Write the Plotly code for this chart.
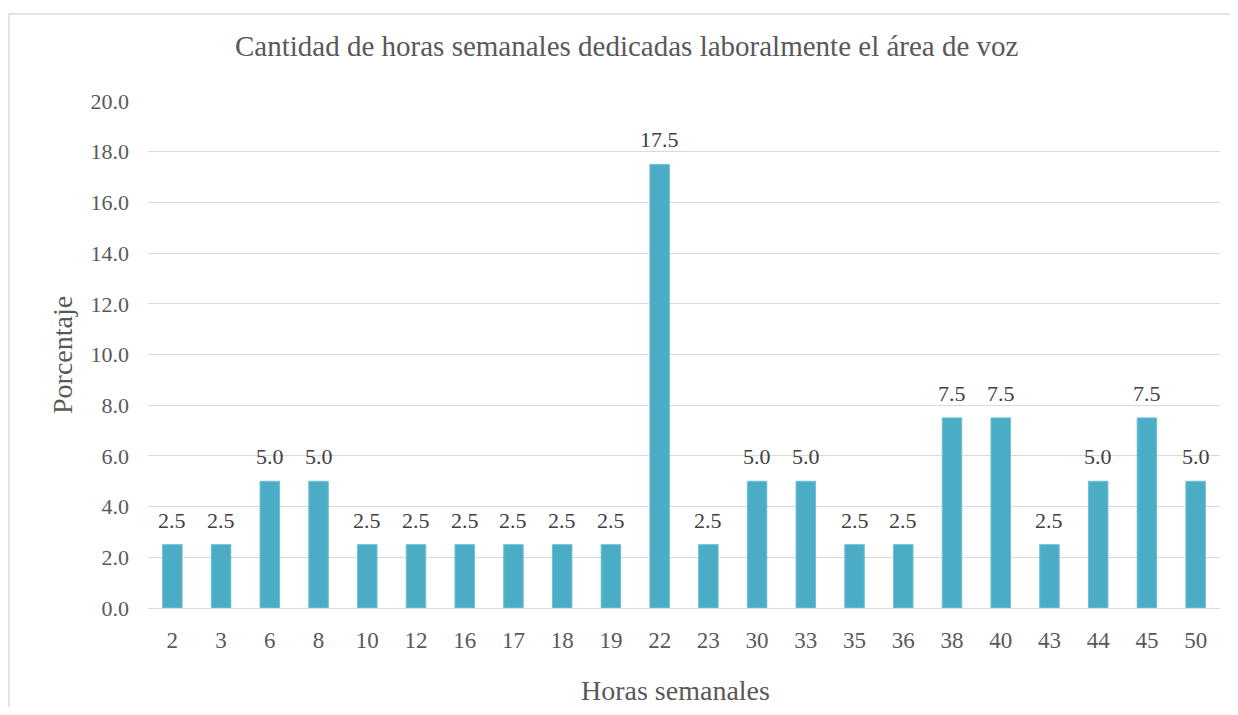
import plotly.graph_objects as go

categories = ["2", "3", "6", "8", "10", "12", "16", "17", "18", "19", "22", "23",
              "30", "33", "35", "36", "38", "40", "43", "44", "45", "50"]
values = [2.5, 2.5, 5.0, 5.0, 2.5, 2.5, 2.5, 2.5, 2.5, 2.5, 17.5, 2.5,
          5.0, 5.0, 2.5, 2.5, 7.5, 7.5, 2.5, 5.0, 7.5, 5.0]
y_ticks = [0, 2, 4, 6, 8, 10, 12, 14, 16, 18, 20]

title_text = "Cantidad de horas semanales dedicadas laboralmente el área de voz"
x_title = "Horas semanales"
y_title = "Porcentaje"

# page has an 8px body margin; figure sized to fit inside the window
OFF = 8
W, H = 1222, 699
L, R, T, B = 140, 10, 93, 99
pw, ph = W - L - R, H - T - B

def px_x(p):
    return (p - OFF - L) / pw

def px_y(p):
    return (H - B - (p - OFF)) / ph

serif = "Liberation Serif, Times New Roman, serif"

fig = go.Figure(go.Bar(
    x=categories, y=values,
    marker=dict(color="#4BACC6", line=dict(color="#6FC0D6", width=1)),
    hoverinfo="x+y",
))

# data labels placed at category index positions
label_anns = [
    dict(x=i, y=v, xref="x", yref="y", text=f"{v:.1f}", showarrow=False,
         xanchor="center", yanchor="bottom", yshift=10,
         font=dict(family=serif, size=22, color="#404040"))
    for i, v in enumerate(values)
]

fig.update_layout(
    width=W, height=H,
    margin=dict(l=L, r=R, t=T, b=B),
    paper_bgcolor="white", plot_bgcolor="white",
    bargap=0.6,
    showlegend=False,
    xaxis=dict(type="category", range=[-0.5, len(categories) - 0.5],
               showgrid=False, showline=False, ticks="",
               ticklabelstandoff=16,
               tickfont=dict(family=serif, size=23, color="#595959")),
    yaxis=dict(range=[0, 20], tickvals=y_ticks, ticktext=[f"{v:.1f}" for v in y_ticks],
               showgrid=True, gridcolor="#D9D9D9", gridwidth=1, zeroline=True,
               zerolinecolor="#D9D9D9", zerolinewidth=1, showline=False, ticks="",
               ticklabelstandoff=18,
               tickfont=dict(family=serif, size=22, color="#595959")),
    annotations=label_anns + [
        dict(text=title_text, xref="paper", yref="paper", x=px_x(627), y=px_y(46),
             xanchor="center", yanchor="middle", showarrow=False,
             font=dict(family=serif, size=29, color="#595959")),
        dict(text=x_title, xref="paper", yref="paper", x=px_x(675), y=px_y(690),
             xanchor="center", yanchor="middle", showarrow=False,
             font=dict(family=serif, size=28, color="#595959")),
        dict(text=y_title, xref="paper", yref="paper", x=px_x(62), y=px_y(355),
             xanchor="center", yanchor="middle", showarrow=False, textangle=-90,
             font=dict(family=serif, size=28, color="#595959")),
    ],
    shapes=[
        dict(type="rect", xref="paper", yref="paper",
             x0=px_x(9), x1=px_x(1260), y0=px_y(740), y1=px_y(14),
             line=dict(color="#D9D9D9", width=1.5), fillcolor="rgba(0,0,0,0)", layer="below"),
    ],
)

fig.write_html("out.html")
